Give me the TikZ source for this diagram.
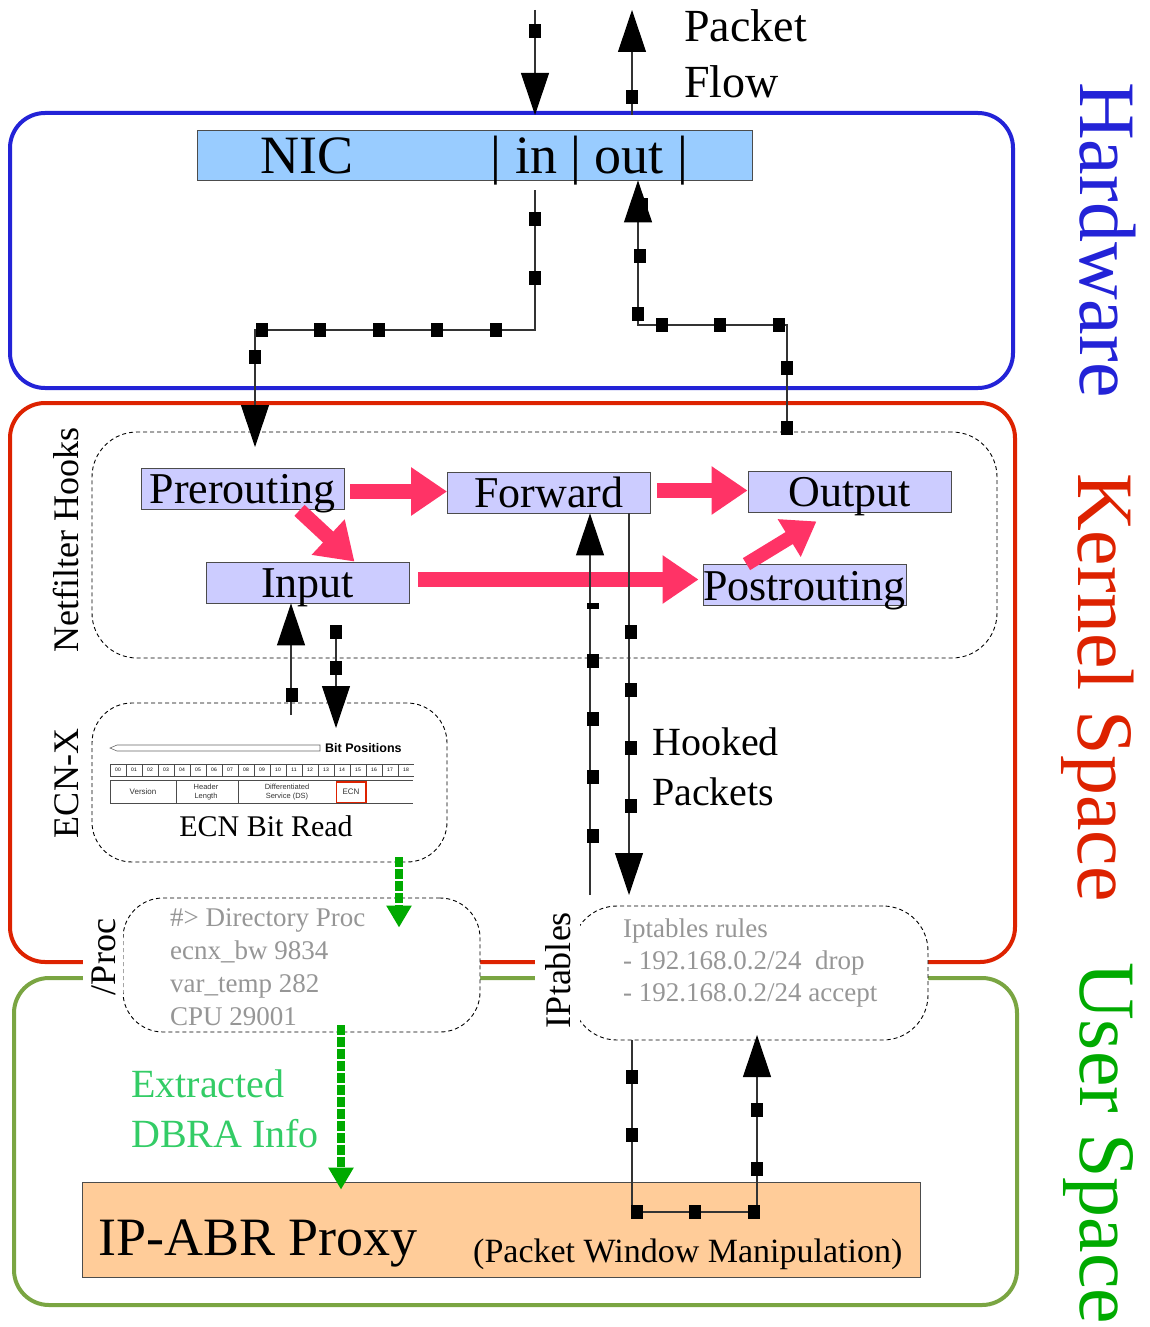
\documentclass[tikz,border=0pt]{standalone}
\usepackage{fontspec}
\setmainfont{Liberation Serif}
\newfontfamily\figsans{Liberation Sans}
\usetikzlibrary{arrows.meta,calc}

\definecolor{hwblue}{RGB}{35,35,215}
\definecolor{kred}{RGB}{221,34,0}
\definecolor{uline}{RGB}{122,165,66}
\definecolor{utext}{RGB}{0,170,0}
\definecolor{hookpink}{RGB}{255,51,102}
\definecolor{nicfill}{RGB}{153,204,255}
\definecolor{hookfill}{RGB}{204,204,255}
\definecolor{proxyfill}{RGB}{255,204,153}
\definecolor{greytxt}{RGB}{150,150,150}
\definecolor{infogreen}{RGB}{51,204,102}
\definecolor{dataflow}{RGB}{0,170,0}

\newcommand\fsz[2]{\fontsize{#1}{#2}\selectfont}

\tikzset{
  region/.style={line width=4pt, rounded corners=35pt},
  dbox/.style={draw=black, dash pattern=on 4pt off 3pt, line width=0.9pt,
               rounded corners=40pt, inner sep=0pt},
  hookbox/.style={draw=black!70, line width=0.8pt, fill=hookfill, inner sep=0pt,
                  minimum width=203pt, minimum height=41pt, font=\fsz{44}{50},
                  text height=30pt, text depth=0pt},
  fat/.style={line width=15pt, draw=hookpink, -{Triangle[length=36pt,width=46pt]}},
  flow/.style={line width=1.1pt, draw=black!80, -{Triangle[length=42pt,width=28pt,color=black]}},
  greenflow/.style={line width=8pt, draw=dataflow, dash pattern=on 10pt off 2pt,
                    -{Triangle[length=22pt,width=24pt]}},
  sidelabel/.style={inner sep=0pt, font=\fsz{80}{96}},
  vlabel/.style={rotate=90, anchor=base, inner sep=0pt, font=\fsz{36}{40}},
  pkt/.pic={\fill[black] (-6,-7) rectangle (6,7);},
  cell/.style={draw=black!70, line width=0.5pt},
}

\begin{document}
\begin{tikzpicture}[x=1pt,y=-1pt]
\useasboundingbox (0,0) rectangle (1149,1327);

% --- the three layers ---
\draw[region, hwblue] (10,113) rectangle (1013,388);
\draw[region, kred]   (10,403) rectangle (1015,962);
\draw[region, uline]  (14,978) rectangle (1017,1305);
\coordinate (hwTop) at (0,115);

\node[sidelabel, rotate=-90, anchor=base west, text=hwblue] (hwlab) at (1080,82) {Hardware};
\node[sidelabel, rotate=-90, anchor=base west, text=kred] (kslab) at (1078,473) {Kernel Space};
\node[sidelabel, rotate=-90, anchor=base west, text=utext] (uslab) at (1080,962) {User Space};

% --- NIC ---
\node[draw=black!70, line width=0.8pt, fill=nicfill, minimum width=555pt, minimum height=50pt,
      inner sep=0pt, font=\fsz{54}{60}, text height=37pt, text depth=0pt] (nic) at (474.5,155)
      {NIC\hspace{137pt}| in | out |};

% multi-line texts are placed by the baseline of their last line
\node[anchor=base west, align=left, inner sep=0pt, font=\fsz{46}{56}] (pflow) at (684,98) {Packet\\Flow};

% --- dashed groups ---
\node[dbox, rounded corners=45pt, minimum width=905pt, minimum height=226pt] (hooks) at (544.5,545) {};
\node[dbox, minimum width=355pt, minimum height=159pt] (ecnbox) at (269.5,782.5) {};
\node[dbox, fill=white, minimum width=357pt, minimum height=134pt] (proc) at (301.5,965) {};
\node[dbox, fill=white, rounded corners=45pt, minimum width=356pt, minimum height=134pt] (ipt) at (750,973) {};

\node[vlabel] (nflab) at (78,540) {Netfilter Hooks};
\node[vlabel] (ecnlab) at (78,783) {ECN-X};
\node[vlabel, fill=white, inner ysep=8pt, inner xsep=2pt] (proclab) at (115,957) {/Proc};
\node[vlabel, fill=white, inner ysep=10pt, inner xsep=2pt] (iptlab) at (570,970) {IPtables};

% --- netfilter hook points ---
\node[hookbox] (pre)  at (242.5,488.5) {Prerouting};
\node[hookbox] (fwd)  at (549,492.5)   {Forward};
\node[hookbox] (out)  at (849.5,491.5) {Output};
\node[hookbox] (inp)  at (307.5,582.5) {Input};
\node[hookbox] (post) at (804.5,585)   {Postrouting};

\draw[fat] ($(pre.east |- fwd.west)+(6,-1)$) -- ($(fwd.west)+(0,-1)$);
\draw[fat] ($(fwd.east)+(6,-2)$) -- ($(fwd.east -| out.west)+(0,-2)$);
\draw[fat] ($(pre.south)+(57,1)$) -- ($(inp.north)+(47,0)$);
\draw[fat] ($(inp.east)+(9,-3)$) -- ($(inp.east -| post.west)+(-4,-3)$);
\draw[fat, line width=14pt, -{Triangle[length=32pt,width=42pt]}]
  ($(post.north)+(-58,0)$) -- ($(out.south)+(-33,9)$);

% --- ECN header excerpt ---
\draw[black!60, line width=0.6pt] (110,748) -- (117,745) -- (320,745) -- (320,751) -- (117,751) -- cycle;
\node[anchor=west, inner sep=0pt, font=\figsans\bfseries\fsz{12.5}{14}] (bitpos) at (325,748) {Bit Positions};
\foreach \i in {0,...,18} {
  \draw[cell] (110+16*\i,764) rectangle ++(16,12);
  \node[inner sep=0pt, font=\figsans\fsz{5}{6}] (bit\i) at (118+16*\i,770) {\ifnum\i<10 0\fi\i};
}
\fill[white] (413.5,762) rectangle (425,778);
\draw[cell] (110,780) -- (413,780) (110,803) -- (413,803)
            (110,780) -- (110,803) (176,780) -- (176,803) (238,780) -- (238,803);
\draw[kred, line width=1.5pt] (336.5,782) rectangle (366,802.5);
\node[inner sep=0pt, font=\figsans\fsz{8}{9}, text=black!80] (fver) at (143,792) {Version};
\node[inner sep=0pt, align=center, font=\figsans\fsz{7.5}{9}, text=black!80] (fhl) at (206,792) {Header\\Length};
\node[inner sep=0pt, align=center, font=\figsans\fsz{7.5}{9}, text=black!80] (fds) at (287,792) {Differentiated\\Service (DS)};
\node[inner sep=0pt, font=\figsans\fsz{8}{9}, text=black!80] (fecn) at (351,792) {ECN};
\node[inner sep=0pt, font=\fsz{30}{34}] (ecnread) at (266,826) {ECN Bit Read};

% --- /proc and iptables contents ---
\node[anchor=base west, align=left, inner sep=0pt, text=greytxt, font=\fsz{27}{33}] (proctxt) at (170,1025)
  {\#> Directory Proc\\ecnx\_bw 9834\\var\_temp 282\\CPU 29001};
\node[anchor=base west, align=left, inner sep=0pt, text=greytxt, font=\fsz{27}{32}] (ipttxt) at (623,1001)
  {Iptables rules\\- 192.168.0.2/24\ \ drop\\- 192.168.0.2/24 accept};

\node[anchor=base west, align=left, inner sep=0pt, font=\fsz{40}{50}] (hooked) at (652,805) {Hooked\\Packets};
\node[anchor=base west, align=left, inner sep=0pt, text=infogreen, font=\fsz{40}{50}] (dbra) at (131,1147) {Extracted\\DBRA Info};

% --- user space proxy ---
\node[draw=black!70, line width=0.8pt, fill=proxyfill, minimum width=838pt, minimum height=95pt,
      inner sep=0pt] (proxy) at (501,1229.5) {};
\node[anchor=base west, inner sep=0pt, font=\fsz{54}{60}] (proxyname) at (98,1255) {IP-ABR Proxy};
\node[anchor=base west, inner sep=0pt, font=\fsz{34}{40}] (proxynote) at (473,1262) {(Packet Window Manipulation)};

% --- packet flow paths ---
\coordinate (inTop) at (535,10);
\coordinate (outTop) at (632,10);
\coordinate (nicIn) at (535,190);
\coordinate (outStart) at (787,435);

\draw[flow] (inTop) -- (inTop |- hwTop);
\pic at (535,31) {pkt};
\draw[flow] (outTop |- hwTop) -- (outTop);
\pic at (632,97) {pkt};

\draw[flow] (nicIn) -- (535,330) -- (255,330) -- (255,447);
\foreach \p in {(535,219),(535,278),(496,330),(437,330),(379,330),(320,330),(262,330),(255,357)}
  \pic at \p {pkt};

\pic at (642,205) {pkt};
\draw[flow] (outStart) -- (787,325) -- (638,325) -- (638,0 |- nic.south);
\foreach \p in {(787,428),(787,368),(779,325),(720,325),(662,325),(638,314),(640,256)}
  \pic at \p {pkt};

\draw[flow] (291,715) -- (291,0 |- inp.south);
\pic at (292,695) {pkt};
\draw[flow] (336,625) -- (336,728);
\pic at (336,632) {pkt};
\pic at (336,668) {pkt};

\draw[flow] (590,895) -- (590,0 |- fwd.south);
\fill[black] (587,603) rectangle (599,609);
\foreach \p in {(593,661),(593,719),(593,777),(593,836)}
  \pic at \p {pkt};
\draw[flow] (629,0 |- fwd.south) -- (629,895);
\foreach \p in {(631,632),(631,690),(631,748),(631,806)}
  \pic at \p {pkt};

\draw[flow] (632,0 |- ipt.south) -- (632,1212) -- (757,1212) -- (757,1035);
\foreach \p in {(632,1077),(632,1135),(637,1212),(695,1212),(754,1212),(757,1169),(757,1110)}
  \pic at \p {pkt};

% --- extracted data flow ---
\draw[greenflow] ($(ecnbox.south)+(129.5,-5)$) -- ($(proc.north)+(97.5,30)$);
\draw[greenflow] ($(proc.south)+(39.5,-7)$) -- ($(proxy.north)+(-160,8)$);
\end{tikzpicture}
\end{document}
